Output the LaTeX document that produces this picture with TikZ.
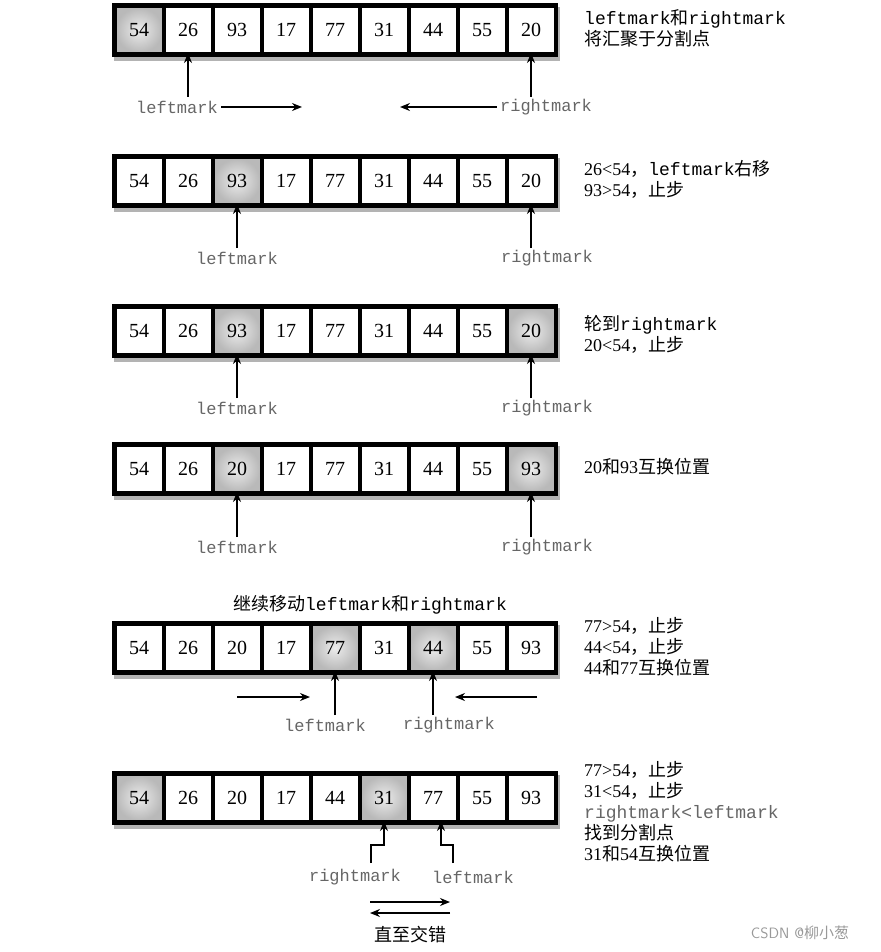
\documentclass[tikz,border=0pt]{standalone}
\usepackage{fontspec}
\setmonofont{Liberation Mono}
\setmainfont{Liberation Serif}
\newfontfamily\cjk{Noto Sans CJK SC}
\newcommand\zhcomma{{\cjk ，}}
\usetikzlibrary{shadows,arrows.meta}
\begin{document}
\begin{tikzpicture}[x=1pt,y=-1pt,
	cell/.style={draw,line width=1pt,fill=white,minimum width=46pt,minimum height=45pt,inner sep=0pt,font=\fontsize{20}{20}\selectfont},
	hot/.style={inner color=gray!15,outer color=gray!55},
	marklabel/.style={font=\ttfamily\fontsize{17}{17}\selectfont,text=black!60},
	note/.style={anchor=north west,align=left,inner sep=0pt,font=\fontsize{18}{21}\selectfont},
	ptr/.style={-{Stealth[length=10pt,width=8pt]},line width=1.4pt}]
\useasboundingbox (0,0) rectangle (880,952);
% rows of the array
\foreach \r/\y/\vals/\hl in {1/30/{54,26,93,17,77,31,44,55,20}/{1},
		2/181/{54,26,93,17,77,31,44,55,20}/{3},
		3/331/{54,26,93,17,77,31,44,55,20}/{3,9},
		4/469/{54,26,20,17,77,31,44,55,93}/{3,9},
		5/648/{54,26,20,17,77,31,44,55,93}/{5,7},
		6/798/{54,26,20,17,44,31,77,55,93}/{1,6}}{
	\fill[black,drop shadow={shadow xshift=2pt,shadow yshift=-4pt,opacity=0.6}] (112,\y-27) rectangle (558,\y+27);
	\foreach \v [count=\i] in \vals
		\node[cell] (r\r c\i) at (139+49*\i-49,\y) {\v};
	\foreach \v [count=\i] in \vals
		\foreach \h in \hl {\ifnum\h=\i \node[cell,hot] at (r\r c\i) {\v};\fi}
}
% step 1
\node[marklabel] (l1) at (177,107) {leftmark};
\node[marklabel] (m1) at (546,107) {rightmark};
\coordinate (a1) at (302,107);
\coordinate (b1) at (400,107);
\draw[ptr] (188,97) -- (r1c2.south);
\draw[ptr] (531,97) -- (r1c9.south);
\draw[ptr] (l1.east) -- (a1);
\draw[ptr] (m1.west) -- (b1);
% steps 2 to 4
\foreach \r/\y in {2/258,3/408,4/547}{
	\node[marklabel] (l\r) at (237,\y) {leftmark};
	\node[marklabel] (m\r) at (547,\y) {rightmark};
	\draw[ptr] (237,\y-10) -- (r\r c3.south);
	\draw[ptr] (531,\y-10) -- (r\r c9.south);
}
% step 5
\node[font=\fontsize{18}{18}\selectfont] (t5) at (370,605) {\cjk 继续移动\texttt{leftmark}和\texttt{rightmark}};
\node[marklabel] (l5) at (325,725) {leftmark};
\node[marklabel] (m5) at (449,725) {rightmark};
\draw[ptr] (335,715) -- (r5c5.south);
\draw[ptr] (433,715) -- (r5c7.south);
\coordinate (p5) at (237,697);
\coordinate (q5) at (537,697);
\draw[ptr] (p5) -- (310,697);
\draw[ptr] (q5) -- (455,697);
% step 6
\node[marklabel] (l6) at (473,877) {leftmark};
\node[marklabel] (m6) at (355,877) {rightmark};
\draw[ptr] (371,863) -- (371,845) -| (r6c6.south);
\draw[ptr] (453,863) -- (453,845) -| ([xshift=8pt]r6c7.south);
\coordinate (u6) at (370,902);
\coordinate (v6) at (450,913);
\draw[ptr] (u6) -- (450,902);
\draw[ptr] (v6) -- (370,913);
\node[font=\cjk\fontsize{18}{18}\selectfont] (s6) at (410,935) {直至交错};
% notes on the right
\node[note] (n1) at (584,9) {\texttt{leftmark}\cjk 和\texttt{rightmark}\\\cjk 将汇聚于分割点};
\node[note] (n2) at (584,160) {26<54\zhcomma\texttt{leftmark}{\cjk 右移}\\93>54\zhcomma{\cjk 止步}};
\node[note] (n3) at (584,315) {{\cjk 轮到}\texttt{rightmark}\\20<54\zhcomma{\cjk 止步}};
\node[note] (n4) at (584,458) {20{\cjk 和}93{\cjk 互换位置}};
\node[note] (n5) at (584,617) {77>54\zhcomma{\cjk 止步}\\44<54\zhcomma{\cjk 止步}\\44{\cjk 和}77{\cjk 互换位置}};
\node[note] (n6) at (584,761) {77>54\zhcomma{\cjk 止步}\\31<54\zhcomma{\cjk 止步}\\\textcolor{black!60}{\texttt{rightmark<leftmark}}\\{\cjk 找到分割点}\\31{\cjk 和}54{\cjk 互换位置}};
\node[font=\sffamily\fontsize{15}{15}\selectfont,text=gray!80] (w) at (800,933) {CSDN @{\cjk 柳小葱}};
\end{tikzpicture}
\end{document}
